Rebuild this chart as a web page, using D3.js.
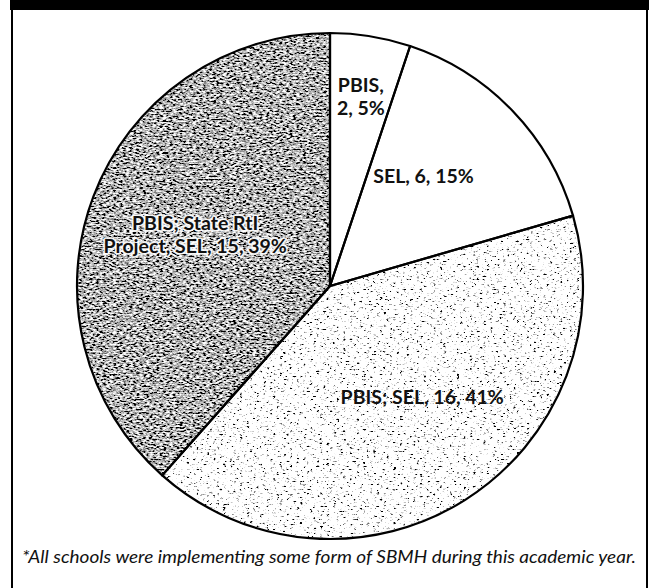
<!DOCTYPE html>
<html>
<head>
<meta charset="utf-8">
<script src="https://cdn.jsdelivr.net/npm/d3@7"></script>
<style>
  body { margin: 0; background: #fff; }
  svg { display: block; }
</style>
</head>
<body>
<script>
"use strict";

// slices, clockwise from 12 o'clock
var categories = ["PBIS", "SEL", "PBIS; SEL", "PBIS; State RtI Project, SEL"];
var counts = [2, 6, 16, 15];
// where the printed label breaks onto a second line (word index, -1 = none)
var labelBreaks = [1, -1, -1, 3];
var footnote = "*All schools were implementing some form of SBMH during this academic year.";

var width = 649, height = 588;
var cx = 330, cy = 286, radius = 253;
var fills = ["#ffffff", "#ffffff", "light", "dark"];

var svg = d3.select("body").append("svg")
    .attr("width", width)
    .attr("height", height);

// speckle textures for the two shaded slices
var defs = svg.append("defs");
function speckle(id, freq, slope, intercept, seed) {
  var f = defs.append("filter")
      .attr("id", id)
      .attr("x", 0).attr("y", 0).attr("width", 1).attr("height", 1);
  f.append("feTurbulence")
      .attr("type", "fractalNoise")
      .attr("baseFrequency", freq)
      .attr("numOctaves", 2)
      .attr("seed", seed)
      .attr("result", "noise");
  f.append("feColorMatrix")
      .attr("in", "noise")
      .attr("type", "matrix")
      .attr("values", "1 0 0 0 0  1 0 0 0 0  1 0 0 0 0  0 0 0 0 1")
      .attr("result", "gray");
  var ct = f.append("feComponentTransfer").attr("in", "gray").attr("result", "thr");
  ["feFuncR", "feFuncG", "feFuncB"].forEach(function(fn) {
    ct.append(fn).attr("type", "linear").attr("slope", slope).attr("intercept", intercept);
  });
  f.append("feComposite")
      .attr("in", "thr")
      .attr("in2", "SourceAlpha")
      .attr("operator", "in");
}
speckle("lightTex", "0.3 0.6", 7, -1.75, 3);
speckle("darkTex", "0.3 0.6", 3, -1.05, 7);

// frame
svg.append("rect")
    .attr("x", 10).attr("y", 0)
    .attr("width", width - 10).attr("height", 10)
    .attr("fill", "#000");
svg.append("line")
    .attr("x1", 12).attr("y1", 8).attr("x2", 12).attr("y2", height)
    .style("stroke", "#000").style("stroke-width", 2);
svg.append("line")
    .attr("x1", 647).attr("y1", 8).attr("x2", 647).attr("y2", height)
    .style("stroke", "#000").style("stroke-width", 2);

var total = d3.sum(counts);

// whole percentages that add up to 100 (largest remainder)
var raw = counts.map(function(c) { return c / total * 100; });
var pcts = raw.map(Math.floor);
var left = 100 - d3.sum(pcts);
d3.range(counts.length)
  .sort(function(a, b) { return (raw[b] - pcts[b]) - (raw[a] - pcts[a]); })
  .slice(0, left)
  .forEach(function(i) { pcts[i] += 1; });

var pie = d3.pie().sort(null).value(function(d) { return d; });
var arcs = pie(counts);
var arc = d3.arc().innerRadius(0).outerRadius(radius);

var g = svg.append("g").attr("transform", "translate(" + cx + "," + cy + ")");

g.selectAll("path.slice")
  .data(arcs)
  .enter().append("path")
    .attr("class", "slice")
    .attr("d", arc)
    .attr("fill", function(d, i) { return fills[i] === "dark" || fills[i] === "light" ? "#000" : fills[i]; })
    .attr("filter", function(d, i) {
      if (fills[i] === "dark") return "url(#darkTex)";
      if (fills[i] === "light") return "url(#lightTex)";
      return null;
    });

g.selectAll("path.edge")
  .data(arcs)
  .enter().append("path")
    .attr("class", "edge")
    .attr("d", arc)
    .attr("fill", "none")
    .style("stroke", "#000")
    .style("stroke-width", 2.2)
    .style("stroke-linejoin", "round");

// labels: "name, count, pct%"
function labelLines(i) {
  var words = (categories[i] + ", " + counts[i] + ", " + pcts[i] + "%").split(" ");
  if (labelBreaks[i] < 0) return [words.join(" ")];
  return [words.slice(0, labelBreaks[i]).join(" "), words.slice(labelBreaks[i]).join(" ")];
}

var lineH = 23;
arcs.forEach(function(d, i) {
  var frac = counts[i] / total;
  var r = frac < 0.1 ? radius * 0.76 : radius * 0.57;
  var mid = (d.startAngle + d.endAngle) / 2;
  if (i === 1) mid -= 0.1;
  if (i === 2) mid -= 0.13;
  var x = Math.sin(mid) * r, y = -Math.cos(mid) * r;
  var lines = labelLines(i);
  var t = g.append("text")
      .attr("text-anchor", "middle")
      .style("font-family", "Lato, 'Open Sans', sans-serif")
      .style("font-weight", 700)
      .style("font-size", "19.5px")
      .attr("fill", "#111");
  if (fills[i] === "dark") {
    t.style("stroke", "rgba(255,255,255,0.9)")
     .style("stroke-width", 3.5)
     .style("paint-order", "stroke")
     .style("stroke-linejoin", "round");
  }
  lines.forEach(function(s, k) {
    t.append("tspan")
        .attr("x", x)
        .attr("y", y + 7 + (k - (lines.length - 1) / 2) * lineH)
        .text(s);
  });
});

svg.append("text")
    .attr("x", 22)
    .attr("y", 563)
    .attr("textLength", 614)
    .attr("lengthAdjust", "spacingAndGlyphs")
    .style("font-family", "Lato, sans-serif")
    .style("font-style", "italic")
    .style("font-size", "17px")
    .attr("fill", "#111")
    .text(footnote);
</script>
</body>
</html>
